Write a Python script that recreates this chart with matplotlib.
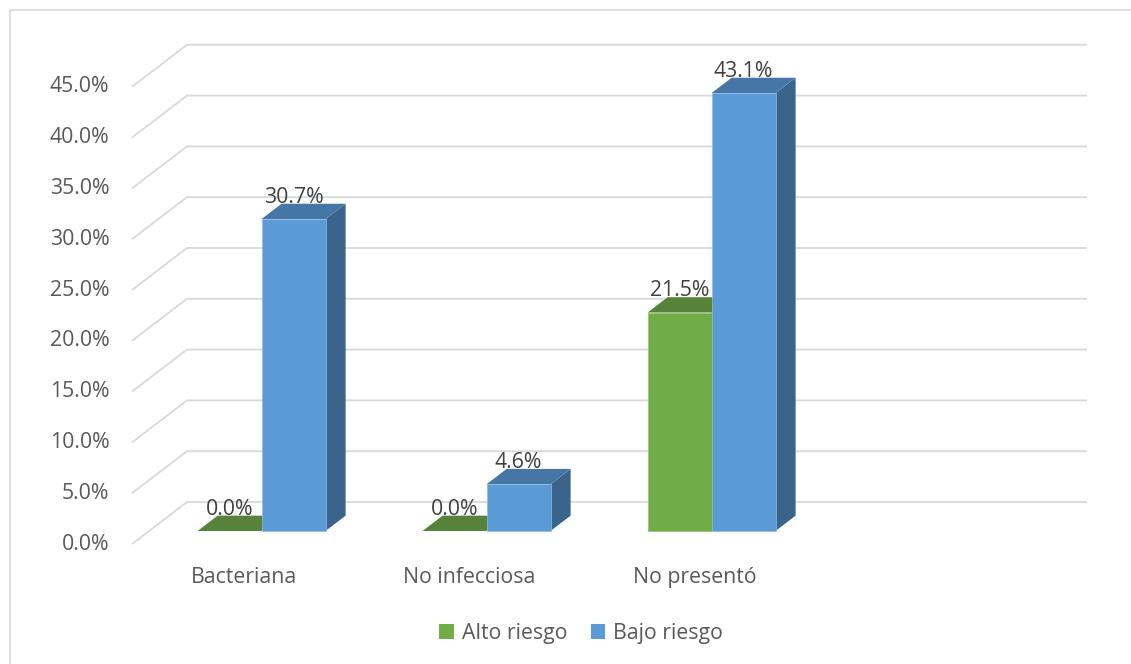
import matplotlib
matplotlib.use("Agg")
import matplotlib.pyplot as plt
from matplotlib.patches import Polygon, Patch, Rectangle

# data
categories = ["Bacteriana", "No infecciosa", "No presentó"]
series_names = ["Alto riesgo", "Bajo riesgo"]
alto_riesgo = [0.0, 0.0, 21.5]
bajo_riesgo = [30.7, 4.6, 43.1]
y_ticks = [0, 5, 10, 15, 20, 25, 30, 35, 40, 45]

# colours: front, top, side
green = ("#70AD47", "#56823A", "#4B7233")
blue = ("#5B9BD5", "#4676A6", "#3A6489")
grid_col = "#D9D9D9"
text_col = "#595959"
label_col = "#404040"
fs = 15.3

plt.rcParams['font.family'] = ['Open Sans', 'DejaVu Sans']

# fake 3D layout (x in category slots, y in percent)
n_slots = 4
depth_x, depth_y = 0.2444, 4.134   # full floor depth
bar_d0, bar_d1 = 0.31, 0.675       # bar position inside the depth
bar_w = 0.2844

W, H = 1131, 664
fig = plt.figure(figsize=(W / 100, H / 100), dpi=100)
ax = fig.add_axes([0, 0, 1, 1])
px_x, px_y = 225.0, 10.16
ax.set_xlim(-132 / px_x, (W - 132) / px_x)
ax.set_ylim(-(H - 544) / px_y, 544 / px_y)
ax.axis("off")

# back wall gridlines + diagonal side lines
for v in y_ticks:
    ax.plot([0, depth_x, n_slots + depth_x], [v, v + depth_y, v + depth_y],
            color=grid_col, lw=1.3, solid_capstyle="butt", zorder=1)
    ax.text(-0.10, v, f"{v:.1f}%", ha="right", va="center",
            fontsize=fs, color=text_col)


def draw_bar(x0, v, cols):
    ox, oy = bar_d0 * depth_x, bar_d0 * depth_y
    dx, dy = (bar_d1 - bar_d0) * depth_x, (bar_d1 - bar_d0) * depth_y
    fx0, fx1 = x0, x0 + bar_w
    fy0, fy1 = oy, v + oy
    top = [(fx0, fy1), (fx1, fy1), (fx1 + dx, fy1 + dy), (fx0 + dx, fy1 + dy)]
    side = [(fx1, fy0), (fx1 + dx, fy0 + dy), (fx1 + dx, fy1 + dy), (fx1, fy1)]
    ax.add_patch(Polygon(side, closed=True, fc=cols[2], ec="none", zorder=3))
    ax.add_patch(Polygon(top, closed=True, fc=cols[1], ec="none", zorder=3))
    if v > 0:
        ax.add_patch(Rectangle((fx0, fy0), bar_w, v, fc=cols[0],
                               ec="#8FBCE6" if cols is blue else "#8CC46A",
                               lw=0.5, zorder=3))
    ax.text(fx0 + bar_w / 2, fy1 + dy + 0.1, f"{v:.1f}%", ha="center",
            va="baseline", fontsize=fs, color=label_col, zorder=5)


for i, cat in enumerate(categories):
    cx = i + 0.5 + bar_d0 * depth_x
    draw_bar(cx - bar_w, alto_riesgo[i], green)
    draw_bar(cx, bajo_riesgo[i], blue)
    ax.text(i + 0.5, -3.3, cat, ha="center", va="center",
            fontsize=fs, color=text_col)

# chart border (only left/top visible in the crop)
fig.patches.append(Rectangle((9.5 / W, -0.05), 1.2, 1.05 - 9.5 / H,
                             fill=False, ec=grid_col, lw=1.2,
                             transform=fig.transFigure))

handles = [Patch(fc=green[0]), Patch(fc=blue[0])]
fig.legend(handles, series_names, loc="center", bbox_to_anchor=(581 / W, 1 - 633 / H),
           ncol=2, frameon=False, fontsize=fs, handlelength=0.7, handleheight=0.7,
           handletextpad=0.35, columnspacing=1.1, labelcolor=text_col)

fig.savefig("out.png", dpi=100)
